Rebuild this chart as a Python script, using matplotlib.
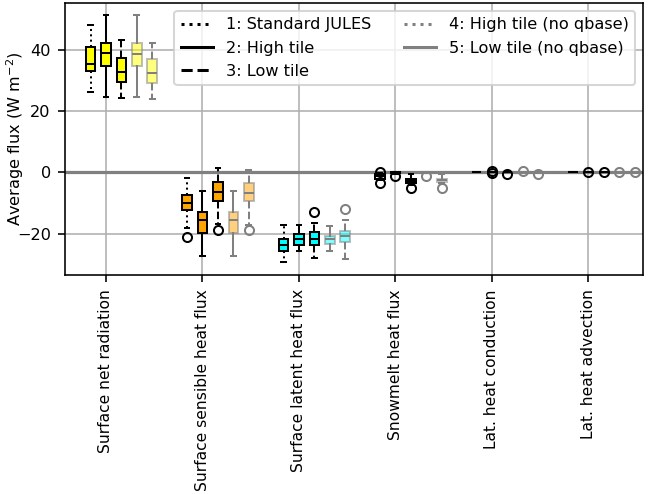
import matplotlib
matplotlib.use("Agg")
import matplotlib.pyplot as plt
from matplotlib.lines import Line2D

# groups on the x axis
categories = ["Surface net radiation", "Surface sensible heat flux",
              "Surface latent heat flux", "Snowmelt heat flux",
              "Lat. heat conduction", "Lat. heat advection"]
group_colors = ["yellow", "orange", "cyan", "white", "white", "white"]

series_names = ["1: Standard JULES", "2: High tile", "3: Low tile",
                "4: High tile (no qbase)", "5: Low tile (no qbase)"]

# box statistics per series, one entry per group: whislo, q1, med, q3, whishi
s1_stats = [(26.4, 33.3, 35.4, 40.9, 48.1), (-18.3, -12.4, -9.9, -7.4, -1.7),
            (-29.4, -25.7, -23.7, -21.8, -17.2), (-2.5, -2.0, -1.3, -0.6, -0.3),
            (0, 0, 0, 0, 0), (0, 0, 0, 0, 0)]
s1_fliers = [[], [-21.0], [], [0.1, -3.4], [], []]

s2_stats = [(24.8, 34.8, 38.9, 42.4, 51.6), (-27.2, -19.8, -15.6, -13.1, -6.1),
            (-25.6, -23.6, -21.8, -20.2, -17.1), (-0.4, -0.3, -0.15, 0, 0),
            (0, 0, 0, 0, 0), (0, 0, 0, 0, 0)]
s2_fliers = [[], [], [], [-1.3], [0.3, -0.2], [0.0]]

s3_stats = [(24.2, 29.5, 32.8, 37.5, 43.3), (-16.9, -9.4, -6.4, -3.1, 1.5),
            (-28.1, -23.6, -21.8, -19.6, -16.7), (-4.0, -3.6, -2.8, -2.0, -0.6),
            (0, 0, 0, 0, 0), (0, 0, 0, 0, 0)]
s3_fliers = [[], [-18.8], [-13.1], [-5.0], [-0.5], [0.0]]

s4_stats = [(24.8, 34.9, 38.8, 42.4, 51.6), (-27.4, -19.8, -15.6, -12.9, -6.1),
            (-25.6, -23.4, -21.8, -20.7, -17.5), (-0.3, -0.3, -0.15, 0, 0),
            (0, 0, 0, 0, 0), (0, 0, 0, 0, 0)]
s4_fliers = [[], [], [], [-1.2], [0.3], [0.0]]

s5_stats = [(24.0, 29.2, 32.4, 37.0, 42.2), (-17.2, -9.4, -6.6, -3.6, 0.75),
            (-28.3, -22.9, -20.9, -19.1, -15.5), (-3.6, -3.3, -2.6, -2.0, -0.6),
            (0, 0, 0, 0, 0), (0, 0, 0, 0, 0)]
s5_fliers = [[], [-18.8], [-12.0], [-5.2], [-0.4], [0.0]]

all_stats = [s1_stats, s2_stats, s3_stats, s4_stats, s5_stats]
all_fliers = [s1_fliers, s2_fliers, s3_fliers, s4_fliers, s5_fliers]

# style per series: line colour, whisker style, box alpha
styles = [("black", ":", 1.0), ("black", "-", 1.0), ("black", "--", 1.0),
          ("gray", "-", 0.5), ("gray", "--", 0.5)]
offsets = [-0.16, 0.0, 0.16, 0.32, 0.48]

plt.rcParams["font.size"] = 8

fig = plt.figure(figsize=(651 / 145, 494 / 145), dpi=145)
ax = fig.add_axes([0.0998, 0.443, 0.8879, 0.551])
ax.grid(True, color="#b0b0b0", lw=0.8, zorder=0)
ax.set_axisbelow(True)

# zero line under the boxes
ax.axhline(0, color="gray", lw=1.6, zorder=1.5)

for k in range(5):
    col, ls, alpha = styles[k]
    for g in range(len(categories)):
        lo, q1, med, q3, hi = all_stats[k][g]
        st = dict(whislo=lo, q1=q1, med=med, q3=q3, whishi=hi,
                  fliers=all_fliers[k][g])
        ax.bxp([st], positions=[g + offsets[k]], widths=0.1,
               patch_artist=True, manage_ticks=False,
               boxprops=dict(facecolor=group_colors[g], edgecolor=col,
                             lw=1.0, alpha=alpha),
               whiskerprops=dict(color=col, ls=ls, lw=1.0),
               capprops=dict(color=col, lw=1.0),
               medianprops=dict(color=col, lw=1.0),
               flierprops=dict(marker="o", markerfacecolor="none",
                               markeredgecolor=col, markersize=4.5))

ax.set_xticks(range(len(categories)))
ax.set_xticklabels(categories, rotation=90, fontsize=7.7)
ax.set_xlim(-0.425, 5.565)
ax.set_ylim(-33.6, 55.4)
ax.set_yticks([-20, 0, 20, 40])
ax.set_ylabel("Average flux (W m$^{-2}$)")
ax.yaxis.set_label_coords(-0.068, 0.5)

handles = [Line2D([], [], color=styles[k][0], ls=[":", "-", "--", ":", "-"][k])
           for k in range(5)]
ax.legend(handles, series_names, ncol=2, loc="upper right")

fig.savefig("out.png", dpi=145)
